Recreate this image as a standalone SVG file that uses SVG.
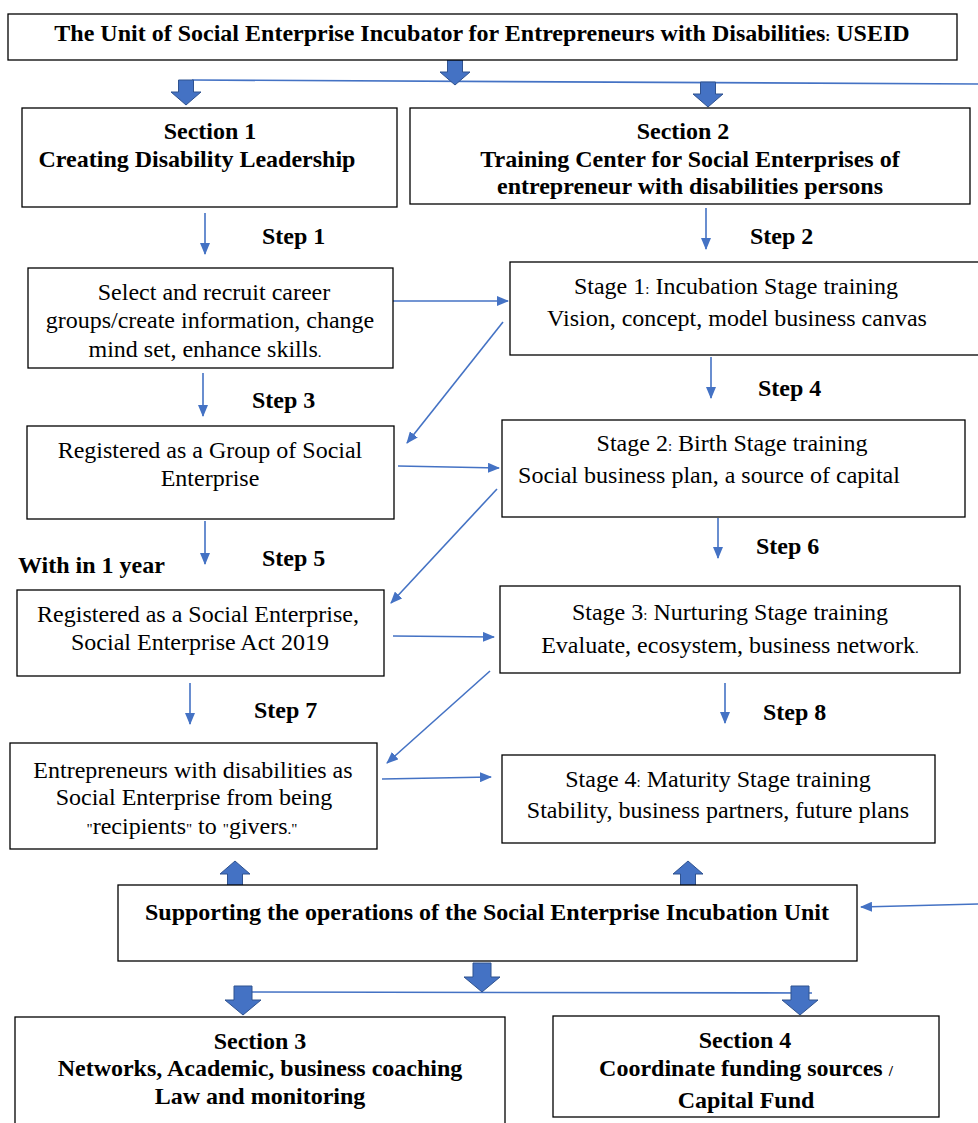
<svg xmlns="http://www.w3.org/2000/svg" width="978" height="1123" viewBox="0 0 978 1123">
<style>
.box{fill:#fff;stroke:#000;stroke-width:1.3}
.t{font-family:"Liberation Serif",serif;font-size:24px;fill:#000;text-anchor:middle}
.b{font-family:"Liberation Serif",serif;font-size:24px;font-weight:bold;fill:#000;text-anchor:middle}
.s{font-family:"Liberation Serif",serif;font-size:24px;font-weight:bold;fill:#000}
.ln{stroke:#4472C4;stroke-width:1.6;fill:none}
.ar{stroke:#4472C4;stroke-width:1.6;fill:none;marker-end:url(#ah)}
.blk{fill:#4472C4;stroke:#2F528F;stroke-width:1}
.sm{font-size:15px}
</style>
<defs>
<marker id="ah" markerUnits="userSpaceOnUse" markerWidth="12" markerHeight="10" refX="11" refY="5" orient="auto"><path d="M0,0 L12,5 L0,10 z" fill="#4472C4"/></marker>
<path id="bd" d="M-7.5,0 h15 v12 h7.5 l-15,13 l-15,-13 h7.5 z"/>
<path id="bd2" d="M-9,0 h18 v14 h9 l-18,15 l-18,-15 h9 z"/>
</defs>
<rect width="978" height="1123" fill="#fff"/>
<g id="connectors">
<line class="ln" x1="192" y1="80" x2="978" y2="84"/>
<line class="ln" x1="250" y1="992" x2="812" y2="993"/>
<use href="#bd" class="blk" x="455" y="60"/>
<use href="#bd" class="blk" x="186" y="80"/>
<use href="#bd" class="blk" x="708" y="82"/>
<use href="#bd2" class="blk" x="482" y="963"/>
<use href="#bd2" class="blk" x="243" y="986"/>
<use href="#bd2" class="blk" x="800" y="986"/>
<use href="#bd" class="blk" transform="translate(235,886) rotate(180)"/>
<use href="#bd" class="blk" transform="translate(688,886) rotate(180)"/>
<line class="ar" x1="205" y1="213" x2="205" y2="254"/>
<line class="ar" x1="706" y1="208" x2="706" y2="249"/>
<line class="ar" x1="393" y1="301" x2="508" y2="301"/>
<line class="ar" x1="503" y1="322" x2="407" y2="443"/>
<line class="ar" x1="203" y1="373" x2="203" y2="416"/>
<line class="ar" x1="711" y1="357" x2="711" y2="398"/>
<line class="ar" x1="398" y1="466" x2="499" y2="468"/>
<line class="ar" x1="497" y1="489" x2="391" y2="603"/>
<line class="ar" x1="205" y1="521" x2="205" y2="564"/>
<line class="ar" x1="718" y1="518" x2="718" y2="558"/>
<line class="ar" x1="393" y1="636" x2="494" y2="637"/>
<line class="ar" x1="490" y1="671" x2="387" y2="763"/>
<line class="ar" x1="190" y1="683" x2="190" y2="724"/>
<line class="ar" x1="725" y1="683" x2="725" y2="723"/>
<line class="ar" x1="382" y1="779" x2="491" y2="777"/>
<line class="ar" x1="978" y1="904" x2="861" y2="907"/>
</g>
<g id="title"><rect class="box" x="8" y="14" width="949" height="46"/><text class="b" x="482" y="41">The Unit of Social Enterprise Incubator for Entrepreneurs with Disabilities<tspan class="sm">:</tspan> USEID</text></g>
<g id="section1"><rect class="box" x="22" y="108" width="375" height="99"/><text class="b" x="210" y="139">Section 1</text><text class="b" x="197" y="167">Creating Disability Leadership</text></g>
<g id="section2"><rect class="box" x="410" y="108" width="560" height="96"/><text class="b" x="683" y="139">Section 2</text><text class="b" x="690" y="167">Training Center for Social Enterprises of</text><text class="b" x="690" y="194">entrepreneur with disabilities persons</text></g>
<g id="step1"><text class="s" x="262" y="244">Step 1</text></g>
<g id="step2"><text class="s" x="750" y="244">Step 2</text></g>
<g id="recruit"><rect class="box" x="28" y="268" width="365" height="100"/><text class="t" x="214" y="300">Select and recruit career</text><text class="t" x="210" y="328">groups/create information, change</text><text class="t" x="205" y="357">mind set, enhance skills<tspan class="sm">.</tspan></text></g>
<g id="stage1"><rect class="box" x="510" y="262" width="475" height="93"/><text class="t" x="736" y="294">Stage 1<tspan class="sm">:</tspan> Incubation Stage training</text><text class="t" x="737" y="326">Vision, concept, model business canvas</text></g>
<g id="step3"><text class="s" x="252" y="408">Step 3</text></g>
<g id="step4"><text class="s" x="758" y="396">Step 4</text></g>
<g id="group"><rect class="box" x="27" y="426" width="367" height="93"/><text class="t" x="210" y="458">Registered as a Group of Social</text><text class="t" x="210" y="486">Enterprise</text></g>
<g id="stage2"><rect class="box" x="502" y="420" width="463" height="97"/><text class="t" x="732" y="451">Stage 2<tspan class="sm">:</tspan> Birth Stage training</text><text class="t" x="709" y="483">Social business plan, a source of capital</text></g>
<g id="step5"><text class="s" x="262" y="566">Step 5</text></g>
<g id="within"><text class="s" x="18" y="573" font-size="18.5">With in 1 year</text></g>
<g id="step6"><text class="s" x="756" y="554">Step 6</text></g>
<g id="social"><rect class="box" x="17" y="590" width="367" height="86"/><text class="t" x="198" y="622">Registered as a Social Enterprise,</text><text class="t" x="200" y="650">Social Enterprise Act 2019</text></g>
<g id="stage3"><rect class="box" x="500" y="586" width="460" height="87"/><text class="t" x="730" y="620">Stage 3<tspan class="sm">:</tspan> Nurturing Stage training</text><text class="t" x="730" y="653">Evaluate, ecosystem, business network<tspan class="sm">.</tspan></text></g>
<g id="step7"><text class="s" x="254" y="718">Step 7</text></g>
<g id="step8"><text class="s" x="763" y="720">Step 8</text></g>
<g id="givers"><rect class="box" x="10" y="743" width="367" height="106"/><text class="t" x="193" y="778">Entrepreneurs with disabilities as</text><text class="t" x="194" y="805">Social Enterprise from being</text><text class="t" x="192" y="834"><tspan class="sm">"</tspan>recipients<tspan class="sm">"</tspan> to <tspan class="sm">"</tspan>givers<tspan class="sm">."</tspan></text></g>
<g id="stage4"><rect class="box" x="502" y="755" width="433" height="88"/><text class="t" x="718" y="787">Stage 4<tspan class="sm">:</tspan> Maturity Stage training</text><text class="t" x="718" y="818">Stability, business partners, future plans</text></g>
<g id="supporting"><rect class="box" x="118" y="885" width="739" height="76"/><text class="b" x="487" y="920">Supporting the operations of the Social Enterprise Incubation Unit</text></g>
<g id="section3"><rect class="box" x="15" y="1017" width="490" height="120"/><text class="b" x="260" y="1049">Section 3</text><text class="b" x="260" y="1076">Networks, Academic, business coaching</text><text class="b" x="260" y="1104">Law and monitoring</text></g>
<g id="section4"><rect class="box" x="553" y="1016" width="386" height="101"/><text class="b" x="745" y="1048">Section 4</text><text class="b" x="746" y="1076">Coordinate funding sources <tspan class="sm">/</tspan></text><text class="b" x="746" y="1108">Capital Fund</text></g>
</svg>
